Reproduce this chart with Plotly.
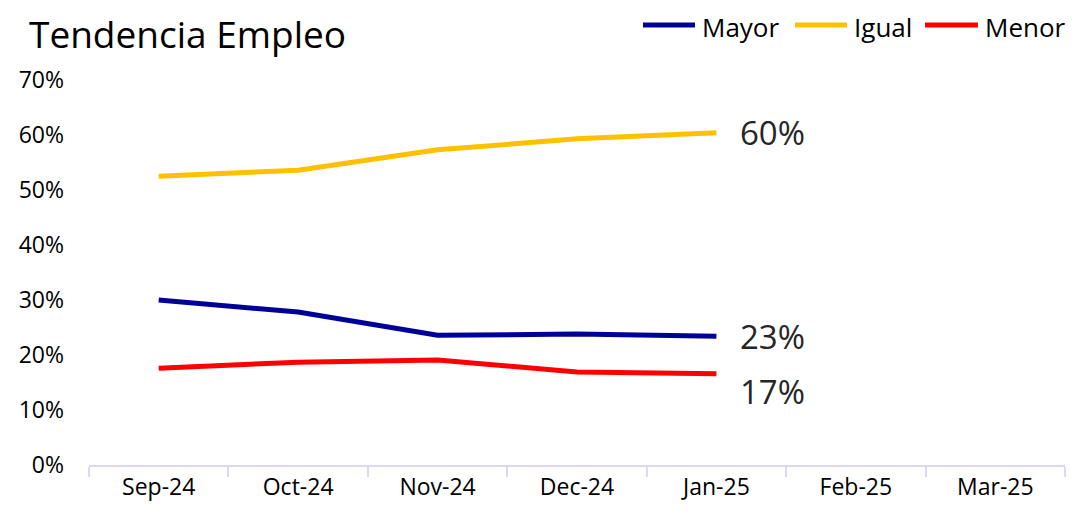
import plotly.graph_objects as go

months = ["Sep-24", "Oct-24", "Nov-24", "Dec-24", "Jan-25", "Feb-25", "Mar-25"]
data_months = ["Sep-24", "Oct-24", "Nov-24", "Dec-24", "Jan-25"]
mayor = [0.300, 0.278, 0.236, 0.238, 0.234]
igual = [0.525, 0.536, 0.573, 0.593, 0.604]
menor = [0.176, 0.187, 0.191, 0.169, 0.166]
y_ticks = [0, 0.1, 0.2, 0.3, 0.4, 0.5, 0.6, 0.7]

series = [("Mayor", mayor, "#000099", 0), ("Igual", igual, "#FFC000", 0), ("Menor", menor, "#FF0000", -18)]
FONT = "Open Sans"

# plot area in page pixels (page body adds 8px offset, compensated by margins)
PX_L, PX_R, PX_T, PX_B = 89, 1065, 80, 465
def px_x(px):
    return (px - PX_L) / (PX_R - PX_L)
def px_y(py):
    return (PX_B - py) / (PX_B - PX_T)

fig = go.Figure()
for name, vals, color, _ in series:
    fig.add_trace(go.Scatter(x=data_months, y=vals, mode="lines", name=name,
                             line=dict(color=color, width=5), showlegend=False))

for name, vals, color, yshift in series:
    fig.add_annotation(x=data_months[-1], y=vals[-1], text=f"{round(vals[-1]*100):.0f}%",
                       showarrow=False, xanchor="left", yanchor="middle", xshift=22, yshift=yshift,
                       font=dict(family=FONT, size=33, color="#262626"))

fig.add_annotation(xref="paper", yref="paper", x=px_x(27), y=px_y(34),
                   text="Tendencia Empleo", showarrow=False, xanchor="left", yanchor="middle",
                   font=dict(family=FONT, size=37, color="#000000"))

# custom legend (long line keys like the reference)
legend_pos = [(643, 695, 700), (795, 847, 852), (925, 978, 983)]
LEG_Y = 25
for (name, _, color, _), (x0, x1, tx) in zip(series, legend_pos):
    fig.add_shape(type="line", xref="paper", yref="paper", x0=px_x(x0), x1=px_x(x1),
                  y0=px_y(LEG_Y), y1=px_y(LEG_Y), line=dict(color=color, width=5))
    fig.add_annotation(xref="paper", yref="paper", x=px_x(tx), y=px_y(LEG_Y + 2), text=name,
                       showarrow=False, xanchor="left", yanchor="middle",
                       font=dict(family=FONT, size=26, color="#000000"))

fig.update_layout(
    width=1076, height=515,
    margin=dict(l=81, r=19, t=72, b=58, autoexpand=False),
    paper_bgcolor="white", plot_bgcolor="white",
    font=dict(family=FONT, color="#000000"),
    showlegend=False,
    xaxis=dict(type="category", categoryorder="array", categoryarray=months, range=[-0.5, 6.5],
               showgrid=False, zeroline=False, showline=True, linecolor="#D9D9F3", linewidth=2,
               ticks="outside", tickson="boundaries", ticklen=10, tickcolor="#D9D9F3", tickwidth=2,
               tickfont=dict(family=FONT, size=23, color="#000000")),
    yaxis=dict(range=[0, 0.7], tickvals=y_ticks, tickformat=".0%", showgrid=False, zeroline=False,
               showline=False, ticks="", ticklabelstandoff=24,
               tickfont=dict(family=FONT, size=23, color="#000000")),
)

fig.write_html("out.html")
